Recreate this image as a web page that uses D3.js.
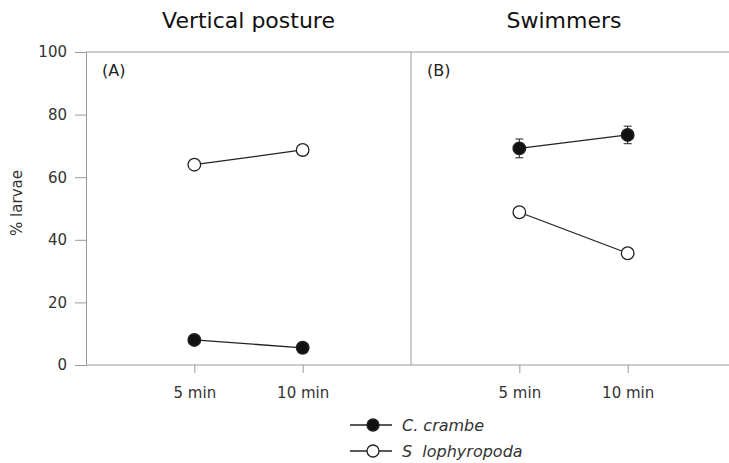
<!DOCTYPE html>
<html>
<head>
<meta charset="utf-8">
<script src="https://cdn.jsdelivr.net/npm/d3@7"></script>
<style>
  body { margin: 0; background: #fff; }
  text { font-family: "DejaVu Sans", sans-serif; }
</style>
</head>
<body>
<svg id="chart" width="729" height="463"></svg>
<script>
// data
const panels = ['Vertical posture', 'Swimmers'];
const panelTags = ['(A)', '(B)'];
const times = ['5 min', '10 min'];
const species = ['C. crambe', 'S  lophyropoda'];
// values per panel, per species, per time
const crambeVals = [[8.0, 5.5], [69.2, 73.5]];
const crambeErr = [[1.0, 1.0], [3.0, 2.8]];
const lophVals = [[64.0, 68.7], [48.8, 35.7]];
const lophErr = [[1.2, 0.6], [1.5, 0.6]];
const yTicks = [0, 20, 40, 60, 80, 100];

const svg = d3.select('#chart');
const margin = { top: 52, left: 86, bottom: 98 };
const height = 463 - margin.top - margin.bottom;
const panelW = 325;
const W = 729;

const y = d3.scaleLinear().domain([0, 100]).range([margin.top + height, margin.top]);

// frame
svg.append('line')
  .attr('x1', margin.left).attr('x2', W)
  .attr('y1', y(100)).attr('y2', y(100))
  .attr('stroke', '#999').attr('stroke-width', 1);

// y axis
const yAxis = svg.append('g')
  .attr('transform', `translate(${margin.left},0)`)
  .call(d3.axisLeft(y).tickValues(yTicks).tickSize(11).tickPadding(8));
yAxis.select('.domain').attr('stroke', '#999');
yAxis.selectAll('line').attr('stroke', '#999');
yAxis.selectAll('text').style('font-size', '15px').attr('fill', '#333');

svg.append('text')
  .attr('transform', 'translate(22,203) rotate(-90)')
  .attr('text-anchor', 'middle')
  .style('font-size', '15px')
  .attr('fill', '#333')
  .text('% larvae');

const symbols = [
  { vals: crambeVals, err: crambeErr, fill: '#111' },
  { vals: lophVals, err: lophErr, fill: '#fff' }
];

panels.forEach((title, p) => {
  const x0 = margin.left + p * panelW;
  const x1 = Math.min(x0 + panelW, W);
  const x = d3.scaleLinear().domain([0, 3]).range([x0, x0 + panelW]);
  const g = svg.append('g');

  // x axis
  const xAxis = g.append('g')
    .attr('transform', `translate(0,${y(0)})`)
    .call(d3.axisBottom(x).tickValues([1, 2]).tickFormat(d => times[d - 1]).tickSize(8).tickPadding(14));
  xAxis.select('.domain').attr('d', `M${x0},0H${x1}`).attr('stroke', '#999');
  xAxis.selectAll('line').attr('stroke', '#999');
  xAxis.selectAll('text').style('font-size', '15px').attr('fill', '#333');

  // panel separator
  if (p === 1) {
    g.append('line')
      .attr('x1', x0).attr('x2', x0)
      .attr('y1', y(100)).attr('y2', y(0))
      .attr('stroke', '#999');
  }

  g.append('text')
    .attr('x', (x0 + x1) / 2 - (p === 1 ? 6 : 0))
    .attr('y', 28)
    .attr('text-anchor', 'middle')
    .style('font-size', '22px')
    .attr('fill', '#111')
    .text(title);

  g.append('text')
    .attr('x', x0 + 16)
    .attr('y', y(100) + 24)
    .style('font-size', '16px')
    .attr('fill', '#222')
    .text(panelTags[p]);

  symbols.forEach(s => {
    const pts = s.vals[p].map((v, i) => ({ t: i + 1, v: v, e: s.err[p][i] }));
    g.append('path')
      .datum(pts)
      .attr('fill', 'none')
      .attr('stroke', '#222')
      .attr('stroke-width', 1.3)
      .attr('d', d3.line().x(d => x(d.t)).y(d => y(d.v)));
    const eb = g.selectAll(null).data(pts).enter().append('g');
    eb.append('line')
      .attr('x1', d => x(d.t)).attr('x2', d => x(d.t))
      .attr('y1', d => y(d.v - d.e)).attr('y2', d => y(d.v + d.e))
      .attr('stroke', '#222');
    [-1, 1].forEach(sign => {
      eb.append('line')
        .attr('x1', d => x(d.t) - 4).attr('x2', d => x(d.t) + 4)
        .attr('y1', d => y(d.v + sign * d.e))
        .attr('y2', d => y(d.v + sign * d.e))
        .attr('stroke', '#222');
    });
    eb.append('circle')
      .attr('cx', d => x(d.t)).attr('cy', d => y(d.v))
      .attr('r', 6.3)
      .attr('fill', s.fill)
      .attr('stroke', '#222')
      .attr('stroke-width', 1.3);
  });
});

// legend
const legend = svg.append('g').attr('transform', 'translate(350,425)');
species.forEach((name, i) => {
  const row = legend.append('g').attr('transform', `translate(0,${i * 26})`);
  row.append('line').attr('x1', 0).attr('x2', 42).attr('stroke', '#222').attr('stroke-width', 1.3);
  row.append('circle').attr('cx', 23).attr('r', 6)
    .attr('fill', symbols[i].fill).attr('stroke', '#222').attr('stroke-width', 1.3);
  row.append('text')
    .attr('x', 52).attr('y', 6)
    .style('font-size', '16px')
    .style('font-style', 'italic')
    .attr('fill', '#333')
    .attr('xml:space', 'preserve')
    .text(name);
});
</script>
</body>
</html>
